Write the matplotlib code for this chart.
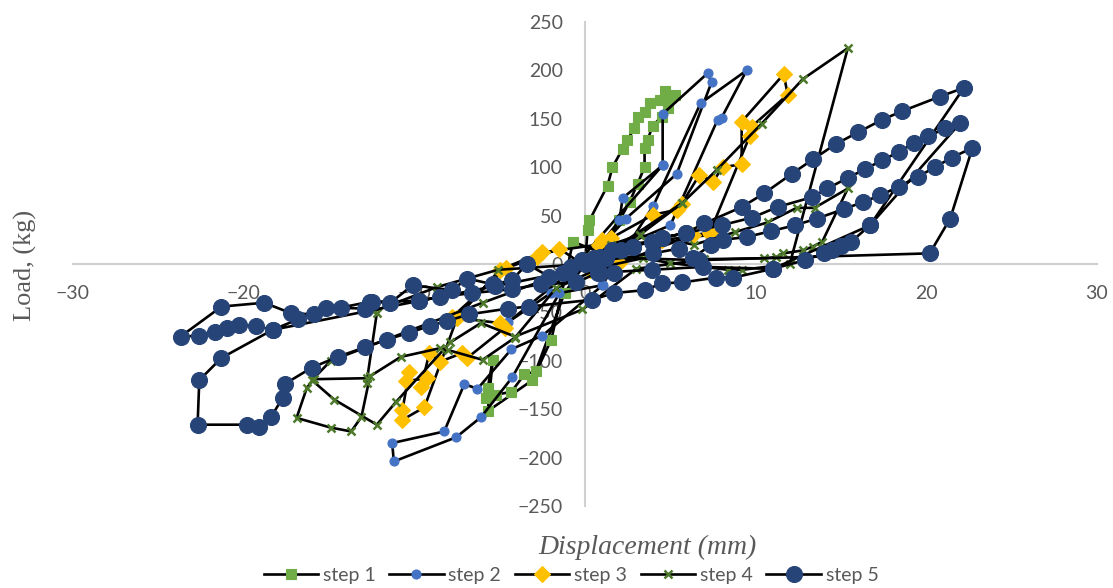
#%% import packages
import numpy as np
import matplotlib
matplotlib.use('Agg')
import matplotlib.pyplot as plt

#%% data (displacement mm, load kg)
step1_x = [0, 0.15, 0.26, 1.32, 1.61, 2.20, 2.49, 2.90, 3.08, 3.49, 3.78, 4.37, 4.66, 5.25, 4.96,
           4.84, 4.49, 3.96, 3.67, 3.49, 3.49, 3.08, 2.61, 2.02, 0.9, -0.7, -1.97, -2.85, -3.55,
           -4.31, -5.19, -5.80, -5.70, -5.40, -5.70, -3.08, -1.2, 0.3, 0.8]
step1_y = [0, 35, 45, 81, 100, 119, 128, 141, 152, 157, 166, 169, 179, 175, 171,
           161, 152, 143, 128, 120, 100, 83, 64, 45, 12, 23, -78, -111, -114,
           -132, -135, -138, -128, -99, -152, -120, -30, 8, 20]

step2_x = [0, 2.02, 2.20, 4.55, 4.55, 7.18, 7.42, 5.37, 2.40, 0.3, 1.03, -2.50, -4.31, -6.30,
           -7.07, -8.25, -11.3, -11.2, -7.55, -6.08, -4.26, -1.5, 1.0, 4.0, 6.77, 9.47, 8.00,
           7.77, 5.0, 1.0, -2.0, -4.5, -1.0, 4.55]
step2_y = [0, 45, 68, 102, 155, 197, 188, 93, 47, 5, -22, -74, -88, -129,
           -124, -173, -185, -204, -179, -158, -117, -30, -22, 60, 166, 200, 151,
           149, 40, 10, -30, -60, -10, 102]

step3_x = [0, 1.0, 1.55, 4.0, 5.4, 5.66, 6.7, 7.5, 8.06, 9.18, 9.18, 11.64, 11.88, 9.77,
           9.65, 7.3, 6.3, 2.0, 0.3, -1.5, -2.8, -4.6, -7.8, -5.0, -4.7, -6.9, -7.2,
           -8.5, -9.12, -9.6, -9.24, -10.5, -10.3, -10.7, -10.7, -9.41, -7.5, -5.0, -2.5,
           0.8, 2.5, 4.5, 7.4]
step3_y = [0, 25, 27, 51, 56, 62, 92, 85, 100, 103, 147, 196, 175, 142,
           132, 32, 30, 1, -6, 16, 7, -4, -55, -61, -66, -97, -92,
           -101, -92, -127, -118, -121, -112, -151, -161, -148, -56, -6, 12,
           20, 20, 25, 30]

step4_x = [0, 1.5, 3.2, 5.7, 7.71, 10.35, 12.76, 15.4, 12.0, 9.2, 8.4, 5.0, 3.4, 1.0, -1.7,
           -4.1, -6.0, -8.0, -8.5, -10.8, -12.6, -13.1, -13.7, -14.9, -16.9, -16.3, -15.9,
           -12.8, -12.8, -12.2, -12.4, -8.7, -5.1, 0, 3.2, 6.4, 8.8, 10.7, 12.4, 13.45, 15.4,
           13.9, 13.35, 12.76, 11.6, 11.2, 10.5, 7.0, 3.0, -0.15, -4.1, -6.1, -7.9, -11.1,
           -12.2, -14.7, -16.0, -14.9, -6.0, 0.5, 5.7]
step4_y = [0, 20, 30, 63, 97, 145, 191, 223, 0, -6, -6, 1, 6, -3, -25,
           -76, -99, -89, -87, -96, -116, -158, -173, -169, -159, -128, -119,
           -118, -123, -51, -49, -24, -6, 0, 30, 20, 33, 43, 58, 58, 78,
           23, 18, 14, 11, 7, 6, 5, -5, -47, -75, -61, -81, -143,
           -166, -140, -120, -100, -40, 2, 63]

step5_x = [0, -0.8, -2.1, -3.4, -4.3, -5.4, -6.9, -7.8, -10.1, -11.4, -12.6, -14.3, -15.9, -17.2,
           -18.8, -21.3, -23.7, -22.6, -21.7, -21.0, -20.3, -19.3, -18.3, -16.8, -15.2, -12.9,
           -12.5, -9.7, -8.5, -6.6, -4.3, -2.6, -0.5, 0.75, 1.7,
           0.55, 1.25, 2.1, 2.8, 3.9, 4.5, 5.9, 7.0, 9.2, 10.5, 12.1, 13.35, 14.7, 16.0, 17.4,
           18.6, 20.8, 22.2,
           16.7, 15.6, 15.0, 14.5, 14.0, 12.9, 11.0, 8.7, 7.7, 5.7, 4.5, 3.5, 1.7, 0.4,
           -3.3, -4.5, -6.8, -8.1, -9.1, -10.3, -11.6, -12.9, -14.5, -16.0, -17.6, -17.7, -18.4,
           -19.1, -19.8, -22.7, -22.6, -21.3, -18.3, -9.7, -5.3, -1.3, -0.15,
           1.6, 2.8, 4.5, 5.9, 8.0, 9.8, 11.3, 13.3, 14.2, 15.4, 16.4, 17.4, 18.4, 19.3, 20.1,
           21.1, 22.0, 16.7, 11.0, 6.9, 3.9, 0.85,
           0, 4.0, 5.5, 6.3, 7.4, 8.1, 9.5, 10.9, 12.3, 13.6, 15.2, 16.3, 17.3, 18.4, 19.5,
           20.5, 21.5, 22.7, 21.4, 20.2, 6.7, 0.85]
step5_y = [0, -3, -13, 0, -17, -21, -15, -27, -22, -40, -39, -45, -52, -51,
           -40, -44, -75, -74, -70, -66, -63, -64, -68, -57, -45, -46,
           -39, -38, -34, -30, -26, -21, -19, -9, -9,
           6, 6, 14, 18, 23, 27, 32, 42, 59, 73, 93, 108, 124, 136, 149,
           158, 173, 182,
           40, 23, 19, 14, 11, 4, -5, -14, -14, -19, -20, -27, -30, -37,
           -44, -46, -52, -59, -64, -71, -78, -86, -96, -107, -124, -138, -158,
           -168, -166, -166, -120, -97, -68, -38, -23, -9, 4,
           14, 18, 27, 32, 40, 48, 59, 69, 78, 89, 98, 107, 116, 125, 132,
           140, 146, 40, -5, -3, -6, -9,
           1, 11, 16, 6, 20, 25, 28, 34, 40, 47, 57, 64, 71, 80, 90,
           100, 110, 120, 47, 11, 4, 7]

labels = ['step 1', 'step 2', 'step 3', 'step 4', 'step 5']
xs = [step1_x, step2_x, step3_x, step4_x, step5_x]
ys = [step1_y, step2_y, step3_y, step4_y, step5_y]
colors = ['#70AD47', '#4472C4', '#FFC000', '#4E7A2C', '#264478']
markers = ['s', 'o', 'D', 'x', 'o']
msizes = [7, 6.5, 8.5, 6, 11.5]

#%% plot
tick_font = ['Lato', 'DejaVu Sans']
grey = '#595959'

fig = plt.figure(figsize=(11.13, 5.88), dpi=100)
ax = fig.add_axes([73/1113, 1 - 506/588, (1097 - 73)/1113, (506 - 22)/588])

for i_ in range(5):
    ax.plot(xs[i_], ys[i_], color='black', lw=1.9, marker=markers[i_],
            markersize=msizes[i_], markerfacecolor=colors[i_],
            markeredgecolor=colors[i_], markeredgewidth=1.8 if markers[i_] == 'x' else 0.8,
            label=labels[i_], zorder=2 + i_)

ax.set_xlim(-30, 30)
ax.set_ylim(-250, 250)
ax.set_xticks(np.arange(-30, 31, 10))
ax.set_yticks(np.arange(-250, 251, 50))

ax.spines['left'].set_position(('data', 0))
ax.spines['bottom'].set_position(('data', 0))
ax.spines['right'].set_visible(False)
ax.spines['top'].set_visible(False)
for s_ in ['left', 'bottom']:
    ax.spines[s_].set_color('#D0D0D0')
    ax.spines[s_].set_linewidth(1.5)
    ax.spines[s_].set_zorder(1)
ax.tick_params(axis='both', length=0, labelsize=14, labelcolor=grey)
ax.tick_params(axis='x', pad=15)
ax.tick_params(axis='y', pad=16)
for t_ in ax.get_xticklabels() + ax.get_yticklabels():
    t_.set_family(tick_font)

fig.text(25/1113, 1 - 265/588, 'Load, (kg)', rotation=90, ha='center', va='center',
         fontsize=19, color=grey, family=['Liberation Serif', 'DejaVu Serif'])
fig.text(647/1113, 1 - 547/588, 'Displacement (mm)', ha='center', va='center',
         fontsize=20, color=grey, style='italic', family=['Liberation Serif', 'DejaVu Serif'])

leg = fig.legend(loc='center', bbox_to_anchor=(571/1113, 1 - 575/588), ncol=5, frameon=False,
                 handlelength=2.8, handletextpad=0.25, columnspacing=0.7,
                 prop={'family': tick_font, 'size': 14})
for t_ in leg.get_texts():
    t_.set_color(grey)

plt.savefig('out.png', dpi=100)
